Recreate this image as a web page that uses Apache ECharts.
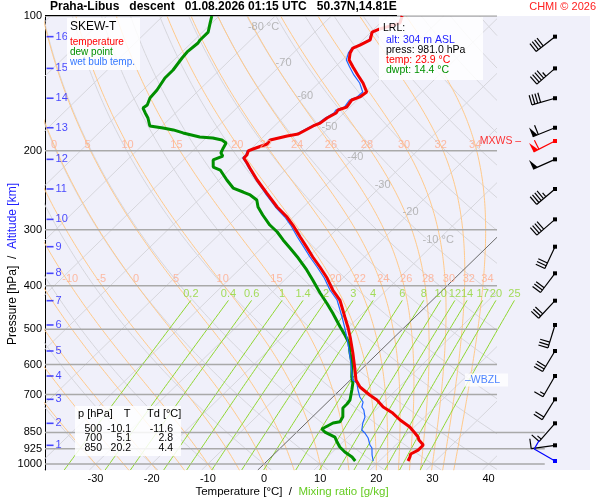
<!DOCTYPE html>
<html>
<head>
<meta charset="utf-8">
<title>Skew-T Praha-Libus</title>
<script src="https://cdn.jsdelivr.net/npm/echarts@6.0.0/dist/echarts.min.js"></script>
<style>
  html, body { margin: 0; padding: 0; background: #fff; }
  #chart { width: 600px; height: 500px; }
</style>
</head>
<body>
<div id="chart"></div>
<script>
// sounding: pressure [hPa] / temperature [°C]
var tempP = [100, 103.7, 106.9, 108.6, 113.1, 116.1, 117.9, 120.9, 125.3, 130.0, 135.4, 141.1, 147.8, 151.6, 154.0,
  159.7, 162.1, 164.6, 168.9, 173.4, 176.0, 183.4, 185.3, 189.1, 193.1, 198.1, 200.1, 204.3, 207.5, 212.9, 218.4,
  232.3, 248.4, 266.9, 281.0, 292.8, 311.4, 328.0, 345.1, 363.3, 384.5, 408.9, 430.5, 469.8, 497.1, 520.6, 565.1,
  616.8, 649.3, 673.1, 701.5, 719.7, 746.2, 769.6, 797.7, 826.9, 852.8, 870.6, 884.0, 907.0, 930.8, 949.8, 964.7, 984.7];
var tempT = [-57.4, -56.5, -59.0, -59.8, -58.7, -59.6, -60.3, -59.9, -58.8, -56.8, -54.5, -52.1, -49.8, -50.1, -51.0,
  -50.6, -51.6, -51.4, -52.1, -52.4, -53.1, -54.3, -55.9, -58.2, -58.0, -59.6, -60.1, -59.6, -59.6, -58.1, -56.7,
  -53.2, -49.1, -44.7, -41.1, -38.6, -35.1, -32.1, -29.2, -26.1, -22.8, -19.6, -16.5, -12.5, -9.9, -7.9, -4.5,
  -1.0, 1.0, 3.0, 6.2, 8.4, 10.8, 13.6, 16.2, 19.2, 21.2, 22.5, 23.2, 24.9, 24.9, 24.3, 24.7, 25.1];

var dewP = [100, 103.7, 108.6, 113.1, 114.9, 120.3, 124.1, 132.0, 137.5, 146.3, 152.4, 158.0, 160.5, 164.6, 168.9,
  176.0, 177.8, 179.6, 182.4, 186.2, 187.2, 189.1, 192.1, 197.0, 202.2, 205.4, 209.6, 217.3, 220.7, 232.3, 242.1,
  247.1, 250.9, 257.5, 266.9, 278.1, 292.8, 303.5, 316.2, 329.6, 346.9, 368.9, 388.4, 415.3, 437.2, 460.2, 494.6,
  515.3, 537.0, 565.1, 595.0, 639.4, 659.5, 683.6, 719.7, 734.7, 749.9, 784.5, 804.6, 810.1, 835.5, 848.5, 870.6,
  893.3, 916.5, 940.1, 964.7, 984.7];
var dewT = [-91.3, -90.3, -89.0, -89.0, -88.8, -89.1, -88.9, -88.3, -88.3, -87.5, -87.3, -86.5, -86.7, -85.4, -84.0,
  -82.2, -79.5, -77.3, -75.0, -71.3, -68.8, -66.8, -65.5, -65.1, -64.6, -63.7, -64.7, -63.4, -61.6, -58.6, -56.0,
  -53.5, -51.7, -49.6, -48.1, -45.8, -42.7, -40.1, -37.6, -34.9, -31.6, -27.9, -25.0, -21.3, -18.3, -15.4, -11.5,
  -9.2, -7.0, -5.0, -2.8, -0.3, 1.0, 2.1, 3.6, 3.8, 3.8, 5.4, 5.8, 4.8, 3.9, 5.0, 7.7,
  9.0, 10.4, 12.2, 14.4, 15.7];

var wetP = [100, 103.7, 106.9, 108.6, 113.1, 116.1, 117.9, 120.9, 125.3, 130.0, 135.4, 141.1, 147.8, 151.6, 154.0,
  159.7, 162.1, 164.6, 168.9, 173.4, 176.0, 183.4, 185.3, 189.1, 193.1, 198.1, 200.1, 204.3, 207.5, 212.9, 218.4,
  232.3, 248.4, 266.9, 281.0, 292.8, 311.4, 328.0, 345.1, 363.3, 384.5, 408.9, 430.5, 469.8, 497.1, 520.6, 565.1,
  616.8, 649.3, 659.5, 683.6, 708.6, 727.2, 746.2, 757.8, 785.8, 810.1, 839.9, 852.8, 875.1, 907.0, 921.1, 954.8, 984.7];
var wetT = [-57.5, -56.6, -59.1, -59.9, -58.9, -59.8, -60.5, -60.2, -59.3, -57.4, -55.2, -52.7, -50.5, -50.6, -51.4,
  -51.0, -52.0, -51.8, -52.4, -52.7, -53.4, -54.6, -56.1, -58.4, -58.2, -59.8, -60.3, -59.8, -59.8, -58.3, -56.9,
  -53.4, -49.4, -45.0, -41.5, -39.0, -35.6, -32.6, -29.7, -26.6, -23.3, -20.1, -17.0, -13.0, -10.5, -8.5, -5.1,
  -1.6, 0.4, 1.7, 3.2, 4.8, 6.3, 7.0, 7.9, 9.4, 10.1, 11.2, 12.3, 13.8, 15.4, 16.3, 17.6, 18.9];

// altitude marks [km] and their pressure levels
var altKm = [16, 15, 14, 13, 12, 11, 10, 9, 8, 7, 6, 5, 4, 3, 2, 1];
var altP = [111.2, 130.9, 152.6, 177.6, 208.9, 243.3, 284.4, 327.3, 375.3, 432.0, 489.4, 559.4, 636.2, 717.1, 811.3, 908.4];

// wind (direction deg, speed kt)
var windP = [111.2, 130.9, 152.6, 177.6, 190.1, 208.9, 243.3, 284.4, 327.3, 375.3, 432.0, 489.4, 559.4, 636.2, 717.1, 811.3, 908.4, 984.7];
var windDir = [232, 229, 254, 248, 243, 246, 230, 229, 205, 217, 223, 197, 211, 210, 212, 221, 262, 300];
var windSpd = [40, 45, 40, 60, 60, 50, 45, 40, 30, 30, 30, 30, 30, 15, 20, 15, 10, 10];
var windTag = ['', '', '', '', 'MXWS', '', '', '', '', '', '', '', '', '', '', '', '', 'SFC'];
var wbzlP = 649;

// diagram grid
var isobars = [100, 200, 300, 400, 500, 600, 700, 850, 925, 1000];
var tempTicks = [-30, -20, -10, 0, 10, 20, 30, 40];
var mixRatios = [0.2, 0.4, 0.6, 1, 1.4, 2, 3, 4, 6, 8, 10, 12, 14, 17, 20, 25];
var thetaW = [-30, -25, -20, -15, -10, -5, 0, 5, 10, 15, 20, 22, 24, 26, 28, 30, 32, 34];
var isoLabelT = [-80, -70, -60, -50, -40, -30, -20, -10];
var isoLabelP = [106, 127, 151, 177, 206, 238, 274, 316];

var lrlLines = ['LRL:', 'alt: 304 m ASL', 'press: 981.0 hPa', 'temp: 23.9 °C', 'dwpt: 14.4 °C'];
var tableHead = ['p [hPa]', 'T', 'Td [°C]'];
var tableRows = [['500', '-10.1', '-11.6'], ['700', '5.1', '2.8'], ['850', '20.2', '4.4']];

var FONT = '"Liberation Sans", Arial, Helvetica, sans-serif';
var SKEW = 82;
var PTOP = 100, PBOT = 1031.3;
var XMIN = -39, XMAX = 58.06, XR = 41.5, XR_LOW = 50;

function lg(p) { return Math.log(p) / Math.LN10; }
function skewX(p, t) { return t + SKEW * (3 - lg(p)); }
function pt(p, t) { return [skewX(p, t), lg(p)]; }
function satVap(tc) { return 6.112 * Math.exp(17.67 * tc / (tc + 243.5)); }

function clipRight(pts, xr) {
  var out = [];
  for (var i = 0; i < pts.length; i++) {
    var a = pts[i], inA = a[0] <= xr;
    if (i > 0) {
      var b = pts[i - 1], inB = b[0] <= xr;
      if (inA !== inB) {
        var f = (xr - b[0]) / (a[0] - b[0]);
        out.push([xr, b[1] + f * (a[1] - b[1])]);
      }
    }
    if (inA) out.push(a);
  }
  return out;
}

function moistGrad(tk, p) {
  var es = satVap(tk - 273.15), rs = 0.622 * es / (p - es);
  var num = 287.04 * tk + 2.501e6 * rs;
  var den = 1005.7 + 2.501e6 * 2.501e6 * rs * 0.622 / (287.04 * tk * tk);
  return num / (den * p);
}
function rk4(tk, p, dp) {
  var k1 = moistGrad(tk, p);
  var k2 = moistGrad(tk + dp / 2 * k1, p + dp / 2);
  var k3 = moistGrad(tk + dp / 2 * k2, p + dp / 2);
  var k4 = moistGrad(tk + dp * k3, p + dp);
  return tk + dp / 6 * (k1 + 2 * k2 + 2 * k3 + k4);
}
function moistProfile(tw) {
  var out = [], tk = tw + 273.15, p = 1000;
  while (p < PBOT + 2) { tk = rk4(tk, p, 2); p += 2; out.unshift([p, tk]); }
  tk = tw + 273.15; p = 1000; out.push([p, tk]);
  while (p > PTOP) { tk = rk4(tk, p, -2); p -= 2; out.push([p, tk]); }
  return out;
}
function nearestT(prof, p) {
  var best = prof[0];
  prof.forEach(function (a) { if (Math.abs(a[0] - p) < Math.abs(best[0] - p)) best = a; });
  return best[1] - 273.15;
}

var series = [];
function addLine(pts, color, width, z) {
  series.push({
    type: 'line', data: pts, symbol: 'none', silent: true, z: z || 1,
    lineStyle: { color: color, width: width }
  });
}

var lpSamples = [];
for (var lp = lg(PBOT); lp > 2; lp -= 0.01) lpSamples.push(lp);
lpSamples.push(2);

// isotherms
for (var T = -130; T <= 40; T += 10) {
  var iso = clipRight([pt(PBOT, T), pt(PTOP, T)], XR);
  if (iso.length > 1) addLine(iso, T === 0 ? '#6a6a6a' : '#d6d6dc', 1, T === 0 ? 3 : 1);
}
// dry adiabats
for (var th = -40; th <= 180; th += 10) {
  var thK = th + 273.15;
  var dry = lpSamples.map(function (l) {
    var p = Math.pow(10, l);
    return pt(p, thK * Math.pow(p / 1000, 0.2857) - 273.15);
  });
  dry = clipRight(dry, XR);
  if (dry.length > 1) addLine(dry, '#d6d6dc', 1, 1);
}
// moist adiabats
var moistLabels200 = [], moistLabels400 = [];
thetaW.forEach(function (tw) {
  var prof = moistProfile(tw);
  var pts = clipRight(prof.map(function (a) { return pt(a[0], a[1] - 273.15); }), XR);
  addLine(pts, '#ffc98a', 1, 2);
  var a = pt(194, nearestT(prof, 194));
  if (a[0] > XMIN + 1.5 && a[0] < XR) moistLabels200.push({ value: a, name: String(tw) });
  var b = pt(386, nearestT(prof, 386));
  if (b[0] > XMIN + 1.5 && b[0] < XR) moistLabels400.push({ value: b, name: String(tw) });
});
// mixing ratio lines
var mixLabels = [];
mixRatios.forEach(function (w) {
  var pts = [];
  for (var p = PBOT; p >= 430; p -= 10) {
    var q = w / 1000, es = q * p / (0.622 + q), l = Math.log(es / 6.112);
    pts.push(pt(p, 243.5 * l / (17.67 - l)));
  }
  var top = pts[pts.length - 1];
  addLine(pts, '#8fd630', 1, 2);
  mixLabels.push({ value: [top[0], lg(417)], name: String(w) });
});
// isobars
isobars.forEach(function (p) {
  addLine([[XMIN, lg(p)], [p >= 850 ? XR_LOW : XR, lg(p)]], '#a9a9a9', 1.5, 3);
});

// profiles
function profile(P, T) { return P.map(function (p, i) { return pt(p, T[i]); }); }
addLine(profile(dewP, dewT), '#008f00', 3, 8);
addLine(profile(wetP, wetT), '#2266ff', 1.2, 9);
addLine(profile(tempP, tempT), '#f00000', 3, 10);

function textScatter(data, color, size, pos, extra) {
  var s = {
    type: 'scatter', data: data, symbolSize: 0, silent: true, z: 12,
    label: Object.assign({
      show: true, position: pos || 'inside', color: color, fontSize: size, fontFamily: FONT,
      formatter: function (d) { return d.name; }
    }, extra || {})
  };
  series.push(s);
}
textScatter(isoLabelT.map(function (t, i) {
  var last = i === 0 || i === isoLabelT.length - 1;
  return { value: pt(isoLabelP[i], t), name: t + (last ? ' °C' : '') };
}), '#a8a8a8', 11);
textScatter(moistLabels200, '#ffab8c', 11);
textScatter(moistLabels400, '#ffab8c', 11, 'inside', { offset: [4, 0] });
textScatter(mixLabels, '#8fd630', 11);

// altitude marks
series.push({
  type: 'scatter', silent: true, z: 12,
  data: altP.map(function (p, i) { return { value: [-38.1, lg(p)], name: String(altKm[i]) }; }),
  symbol: 'rect', symbolSize: [7, 1.6],
  itemStyle: { color: '#1a1aff' },
  label: { show: true, position: 'right', distance: 2, color: '#1a1aff', fontSize: 11, fontFamily: FONT,
    formatter: function (d) { return d.name; } }
});

// MXWS and WBZL marks
var XW = (555 - 264) / 5.615;
windTag.forEach(function (t, i) {
  if (t === 'MXWS') textScatter([{ value: [45.8, lg(windP[i])], name: 'MXWS –' }], '#ff0000', 10.5, 'left', { distance: 0 });
});
textScatter([{ value: [35.8, lg(wbzlP)], name: '–WBZL' }], '#2266ff', 10.5, 'right',
  { distance: 0, backgroundColor: '#ffffff', padding: [1, 8, 1, 0] });

// wind barbs
series.push({
  type: 'custom', coordinateSystem: 'cartesian2d', silent: true, clip: false, z: 12,
  data: windP.map(function (p, i) { return [XW, lg(p), windDir[i], windSpd[i], i]; }),
  encode: { x: 0, y: 1 },
  renderItem: function (params, api) {
    var c = api.coord([api.value(0), api.value(1)]);
    var dir = api.value(2) * Math.PI / 180, spd = api.value(3), tag = windTag[api.value(4)];
    var col = tag === 'MXWS' ? '#ff0000' : (tag === 'SFC' ? '#0000ff' : '#000000');
    var sx = Math.sin(dir), sy = -Math.cos(dir), fx = -sy, fy = sx;
    var L = 24, tip = [c[0] + sx * L, c[1] + sy * L];
    var kids = [
      { type: 'line', shape: { x1: c[0], y1: c[1], x2: tip[0], y2: tip[1] }, style: { stroke: col, lineWidth: 1.2 } },
      { type: 'rect', shape: { x: c[0] - 2, y: c[1] - 2, width: 4, height: 4 }, style: { fill: col } }
    ];
    function at(d) { return [tip[0] - sx * d, tip[1] - sy * d]; }
    var rest = Math.round(spd / 5) * 5, pos = 0;
    while (rest >= 50) {
      var a = at(pos), b = at(pos + 5);
      kids.push({ type: 'polygon', shape: { points: [a, b, [a[0] + fx * 10, a[1] + fy * 10]] }, style: { fill: col } });
      pos += 6; rest -= 50;
    }
    while (rest >= 10) {
      var a2 = at(pos);
      kids.push({ type: 'line', shape: { x1: a2[0], y1: a2[1], x2: a2[0] + fx * 10, y2: a2[1] + fy * 10 }, style: { stroke: col, lineWidth: 1.2 } });
      pos += 3; rest -= 10;
    }
    if (rest >= 5) {
      if (pos === 0) pos = 3;
      var a3 = at(pos);
      kids.push({ type: 'line', shape: { x1: a3[0], y1: a3[1], x2: a3[0] + fx * 5, y2: a3[1] + fy * 5 }, style: { stroke: col, lineWidth: 1.2 } });
    }
    return { type: 'group', children: kids };
  }
});

// boxes and texts
function txt(x, y, text, font, fill, align, extra) {
  return Object.assign({
    type: 'text', x: x, y: y, z: 101,
    style: { text: text, font: font, fill: fill, align: align || 'left', verticalAlign: 'middle',
      textAlign: align || 'left', textVerticalAlign: 'middle' }
  }, extra || {});
}
function box(x, y, w, h) {
  return { type: 'rect', z: 100, shape: { x: x, y: y, width: w, height: h }, style: { fill: 'rgba(255,255,255,0.85)' } };
}
var graphic = [
  { type: 'line', z: 100, shape: { x1: 45, y1: 15.5, x2: 397, y2: 15.5 }, style: { stroke: '#000', lineWidth: 1 } },
  txt(50, 7, 'Praha-Libus   descent   01.08.2026 01:15 UTC   50.37N,14.81E', 'bold 12px ' + FONT, '#000'),
  txt(596, 7, 'CHMI © 2026', '11px ' + FONT, '#ff2020', 'right'),
  box(67, 18, 73, 52),
  txt(70, 27, 'SKEW-T', '12px ' + FONT, '#000'),
  txt(70, 42, 'temperature', '10px ' + FONT, '#ff0000'),
  txt(70, 52, 'dew point', '10px ' + FONT, '#009000'),
  txt(70, 62, 'wet bulb temp.', '10px ' + FONT, '#3377ff'),
  box(379, 17, 104, 63),
  txt(383, 28, lrlLines[0], '10.5px ' + FONT, '#000'),
  txt(386, 40, lrlLines[1], '10.5px ' + FONT, '#2222ff'),
  txt(386, 50, lrlLines[2], '10.5px ' + FONT, '#000'),
  txt(386, 60, lrlLines[3], '10.5px ' + FONT, '#ff0000'),
  txt(386, 70, lrlLines[4], '10.5px ' + FONT, '#009000'),
  box(75, 406, 106, 50),
  txt(78, 414, tableHead[0], '11px ' + FONT, '#000'),
  txt(127, 414, tableHead[1], '11px ' + FONT, '#000', 'center'),
  txt(147, 414, tableHead[2], '11px ' + FONT, '#000'),
  {
    type: 'text', x: 13, y: 264, rotation: Math.PI / 2, z: 101,
    style: {
      text: '{a|Pressure [hPa]}  /  {b|Altitude [km]}', font: '12px ' + FONT, fill: '#000',
      align: 'center', verticalAlign: 'middle', textAlign: 'center', textVerticalAlign: 'middle',
      rich: { a: { fill: '#000', font: '12px ' + FONT }, b: { fill: '#2222ff', font: '12px ' + FONT } }
    }
  },
  {
    type: 'text', x: 292, y: 492, z: 101,
    style: {
      text: '{a|Temperature [°C]}  /  {b|Mixing ratio [g/kg]}', font: '11.5px ' + FONT, fill: '#000',
      align: 'center', verticalAlign: 'middle', textAlign: 'center', textVerticalAlign: 'middle',
      rich: { a: { fill: '#000', font: '11.5px ' + FONT }, b: { fill: '#66cc22', font: '11.5px ' + FONT } }
    }
  }
];
var rowY = [429, 438.5, 448];
tableRows.forEach(function (r, i) {
  graphic.push(txt(102, rowY[i], r[0], '10.5px ' + FONT, '#000', 'right'));
  graphic.push(txt(131, rowY[i], r[1], '10.5px ' + FONT, '#000', 'right'));
  graphic.push(txt(173, rowY[i], r[2], '10.5px ' + FONT, '#000', 'right'));
});

var chart = echarts.init(document.getElementById('chart'));
chart.setOption({
  animation: false,
  backgroundColor: '#ffffff',
  grid: { left: 45, top: 16, width: 545, height: 454, show: true, backgroundColor: '#f0f0fa', borderWidth: 0 },
  xAxis: {
    type: 'value', min: XMIN, max: XMAX,
    axisLine: { show: false, onZero: false }, axisTick: { show: false }, splitLine: { show: false },
    axisLabel: { customValues: tempTicks, formatter: function (v) { return String(v); },
      color: '#000', fontSize: 11, fontFamily: FONT, margin: 3 }
  },
  yAxis: {
    type: 'value', inverse: true, min: 2, max: lg(PBOT),
    axisLine: { show: true, onZero: false, lineStyle: { color: '#000', width: 1 } },
    axisTick: { show: false }, splitLine: { show: false },
    axisLabel: { customValues: isobars.map(lg), formatter: function (v) { return String(Math.round(Math.pow(10, v))); },
      color: '#000', fontSize: 11, fontFamily: FONT, margin: 3 }
  },
  series: series,
  graphic: graphic
});
</script>
</body>
</html>
